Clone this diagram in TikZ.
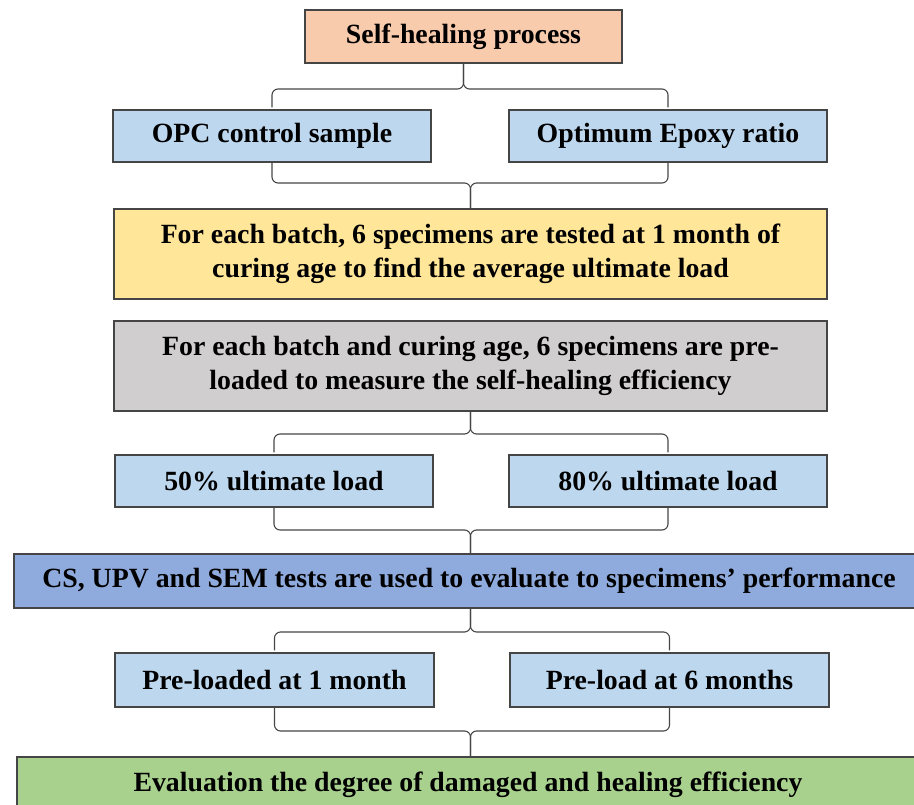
\documentclass[tikz,border=0pt]{standalone}
\usepackage{fontspec}
\setmainfont{Liberation Serif}
\usetikzlibrary{calc}
\definecolor{peach}{HTML}{F8CBAD}
\definecolor{lblue}{HTML}{BDD7EE}
\definecolor{yel}{HTML}{FFE699}
\definecolor{gry}{HTML}{D0CECE}
\definecolor{mblue}{HTML}{8FAADC}
\definecolor{grn}{HTML}{A9D18E}
\definecolor{edge}{HTML}{454545}
\tikzset{
  txt/.style={font=\fontsize{27.8}{34}\selectfont\bfseries},
  box/.style={draw=edge, line width=1.3pt, inner sep=0pt, align=center, txt},
  brace/.style={draw=edge, line width=1.1pt, rounded corners=6pt}
}
\begin{document}
\begin{tikzpicture}[x=1pt,y=-1pt]
\useasboundingbox (0,0) rectangle (914,805);
\node[box, fill=peach, minimum width=317pt, minimum height=53pt] (top) at (463.5,36.5) {Self-healing process};
\node[box, fill=lblue, minimum width=318pt, minimum height=52pt] (opc) at (272,136) {OPC control sample};
\node[box, fill=lblue, minimum width=318pt, minimum height=52pt] (epo) at (668,136) {Optimum Epoxy ratio};
\node[box, fill=yel, minimum width=713pt, minimum height=90pt] (yel) at (470.5,254) {For each batch, 6 specimens are tested at 1 month of\\curing age to find the average ultimate load};
\node[box, fill=gry, minimum width=713pt, minimum height=90pt] (gry) at (470.5,366) {For each batch and curing age, 6 specimens are pre-\\loaded to measure the self-healing efficiency};
\node[box, fill=lblue, minimum width=318pt, minimum height=52pt] (p50) at (274,481) {50\% ultimate load};
\node[box, fill=lblue, minimum width=318pt, minimum height=52pt] (p80) at (668,481) {80\% ultimate load};
\node[box, fill=mblue, minimum width=910pt, minimum height=54pt] (cs) at (469,581) {CS, UPV and SEM tests are used to evaluate to specimens’ performance};
\node[box, fill=grn, minimum width=904pt, minimum height=80pt] (grn) at (469,797) {};
\node[txt] (grntxt) at (468,785) {Evaluation the degree of damaged and healing efficiency};
\node[box, fill=lblue, minimum width=319pt, minimum height=54pt] (pre1) at (274.5,680) {Pre-loaded at 1 month};
\node[box, fill=lblue, minimum width=319pt, minimum height=54pt] (pre6) at (669.5,680) {Pre-load at 6 months};
% brace levels
\coordinate (h1) at (0,89);
\coordinate (h2) at (0,183);
\coordinate (h3) at (0,434);
\coordinate (h4) at (0,530);
\coordinate (h5) at (0,632);
\coordinate (h6) at (0,731);
% brace 1: top -> opc / epo
\draw[brace] ($(opc.north)+(0,-2)$) -- (opc.north |- h1) -- (top.south |- h1) -- (top.south);
\draw[brace] (top.south) -- (top.south |- h1) -- (epo.north |- h1) -- ($(epo.north)+(0,-2)$);
% brace 2: opc / epo -> yel
\draw[brace] (opc.south) -- (opc.south |- h2) -- (yel.north |- h2) -- (yel.north);
\draw[brace] (yel.north) -- (yel.north |- h2) -- (epo.south |- h2) -- (epo.south);
% brace 3: gry -> p50 / p80
\draw[brace] ($(p50.north)+(0,-2)$) -- (p50.north |- h3) -- (gry.south |- h3) -- (gry.south);
\draw[brace] (gry.south) -- (gry.south |- h3) -- (p80.north |- h3) -- ($(p80.north)+(0,-2)$);
% brace 4: p50 / p80 -> cs
\draw[brace] (p50.south) -- (p50.south |- h4) -- (yel.south |- h4) -- (yel.south |- cs.north);
\draw[brace] (yel.south |- cs.north) -- (yel.south |- h4) -- (p80.south |- h4) -- (p80.south);
% brace 5: cs -> pre1 / pre6
\draw[brace] ($(pre1.north)+(0,-2)$) -- (pre1.north |- h5) -- (yel.south |- h5) -- (yel.south |- cs.south);
\draw[brace] (yel.south |- cs.south) -- (yel.south |- h5) -- (pre6.north |- h5) -- ($(pre6.north)+(0,-2)$);
% brace 6: pre1 / pre6 -> grn
\draw[brace] (pre1.south) -- (pre1.south |- h6) -- (yel.south |- h6) -- (yel.south |- grn.north);
\draw[brace] (yel.south |- grn.north) -- (yel.south |- h6) -- (pre6.south |- h6) -- (pre6.south);
\end{tikzpicture}
\end{document}
